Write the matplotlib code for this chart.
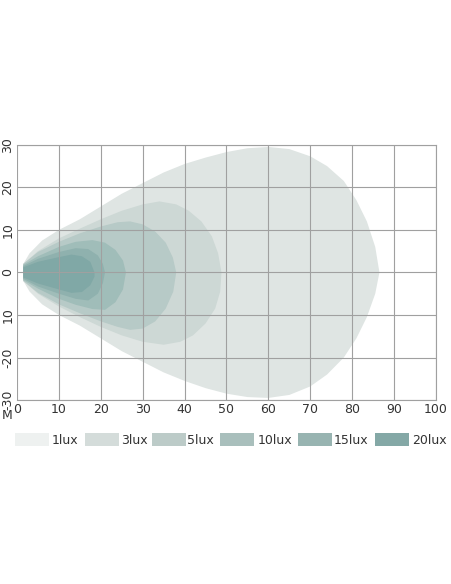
import matplotlib
matplotlib.use("Agg")
import matplotlib.pyplot as plt
from matplotlib.patches import Rectangle, Polygon

labels = ["1lux", "3lux", "5lux", "10lux", "15lux", "20lux"]
legend_colors = ["#eef1f0", "#d4dcda", "#bccbc8", "#a9bfbc", "#98b4b1", "#84a8a6"]
fill_colors = ["#dfe5e3", "#cdd8d5", "#b7cac7", "#a0bdb9", "#8fb1ae", "#80a8a6"]

# contour outlines: upper edge (x, y) and lower edge (x, y)
upper = [
    [(1.5, 2), (3, 4.5), (6, 7.5), (10, 10), (15, 12.5), (20, 15.5), (25, 18.5), (30, 21), (35, 23.5), (40, 25.5), (45, 27), (50, 28.3), (55, 29.2), (60, 29.5), (65, 29), (70, 27.3), (74, 25), (78, 21.5), (81, 17), (83.5, 12), (85.5, 6), (86.5, 0)],
    [(1.5, 2), (5, 5), (10, 8), (15, 10.3), (20, 12.5), (25, 14.5), (30, 16), (34, 16.7), (38, 16), (41, 14.5), (44, 12), (46.5, 8.5), (48, 4.5), (48.8, 0)],
    [(1.5, 2), (5, 4.8), (10, 7.2), (15, 9.2), (20, 10.8), (24, 11.8), (27, 12), (30, 11.3), (33, 9.6), (35.5, 7), (37.2, 3.5), (38, 0)],
    [(1.5, 1.8), (5, 3.8), (10, 6), (14, 7.2), (18, 7.6), (21, 7), (23.5, 5.3), (25.3, 2.8), (26, 0)],
    [(1.5, 1.5), (5, 3.2), (10, 4.8), (14, 5.7), (17, 5.5), (19.3, 4), (20.5, 2), (21, 0)],
    [(1.5, 1.2), (5, 2.5), (10, 3.6), (13, 4.2), (15.5, 3.8), (17.5, 2.5), (18.5, 0)],
]
lower = [
    [(1.5, -2), (3, -4.5), (6, -7.5), (10, -10), (15, -12.5), (20, -15.5), (25, -18.5), (30, -21), (35, -23.5), (40, -25.5), (45, -27.2), (50, -28.5), (55, -29.3), (60, -29.5), (65, -28.8), (70, -26.8), (74, -24), (78, -20), (81, -15.5), (83.5, -10.5), (85.5, -5)],
    [(1.5, -2), (5, -5), (10, -8), (15, -10.5), (20, -12.8), (25, -14.8), (30, -16.3), (35, -17), (39, -16.3), (42, -14.8), (45, -12), (47.3, -8.5), (48.5, -4.5)],
    [(1.5, -2), (5, -4.8), (10, -7.5), (15, -9.6), (20, -11.5), (24, -12.8), (27, -13.5), (30, -13.2), (33, -11.5), (35.5, -8.5), (37.3, -4.5)],
    [(1.5, -1.8), (5, -3.8), (10, -6.2), (14, -7.6), (18, -8.6), (21, -8.8), (23.5, -7), (25.3, -4)],
    [(1.5, -1.5), (5, -3.3), (10, -5), (14, -6.2), (17, -6.6), (19.3, -5), (20.5, -2.5)],
    [(1.5, -1.2), (5, -2.6), (10, -4), (13, -4.8), (15.5, -4.6), (17.5, -3), (18.5, -1)],
]

xticks = [0, 10, 20, 30, 40, 50, 60, 70, 80, 90, 100]
yticks = [30, 20, 10, 0, -10, -20, -30]
ytick_labels = ["30", "20", "10", "0", "10", "-20", "-30"]

fig = plt.figure(figsize=(4.52, 5.84), dpi=100)
ax = fig.add_axes([0.0376, 0.315, 0.927, 0.437])
ax.set_xlim(0, 100)
ax.set_ylim(-30, 30)

for up, lo, c in zip(upper, lower, fill_colors):
    pts = up + lo[::-1]
    ax.add_patch(Polygon(pts, closed=True, facecolor=c, edgecolor="none", zorder=2))

ax.set_xticks(xticks)
ax.set_yticks(yticks)
ax.set_xticklabels([str(v) for v in xticks], fontsize=9, color="#333333")
ax.set_yticklabels(ytick_labels, fontsize=9, color="#333333", rotation=90, va="center")
ax.grid(True, color="#a0a0a0", lw=0.8, zorder=3)
ax.set_axisbelow(False)
ax.tick_params(length=0, pad=2)
for s in ax.spines.values():
    s.set_color("#a0a0a0")
    s.set_linewidth(0.8)
ax.spines["left"].set_visible(False)
ax.set_facecolor("white")
fig.text(0.004, 0.283, "M", fontsize=9, color="#333333")

# legend
W, H = 452, 584
patch_x = [15, 85, 152, 220, 298, 375]
label_x = [52, 121, 187, 258, 334, 412]
for px, lx, lab, c in zip(patch_x, label_x, labels, legend_colors):
    fig.patches.append(Rectangle((px / W, 1 - 446 / H), 34 / W, 13 / H, transform=fig.transFigure,
                                 facecolor=c, edgecolor="none"))
    fig.text(lx / W, 1 - 440 / H, lab, fontsize=9, color="#333333", va="center")

fig.savefig("out.png", dpi=100, facecolor="white")
